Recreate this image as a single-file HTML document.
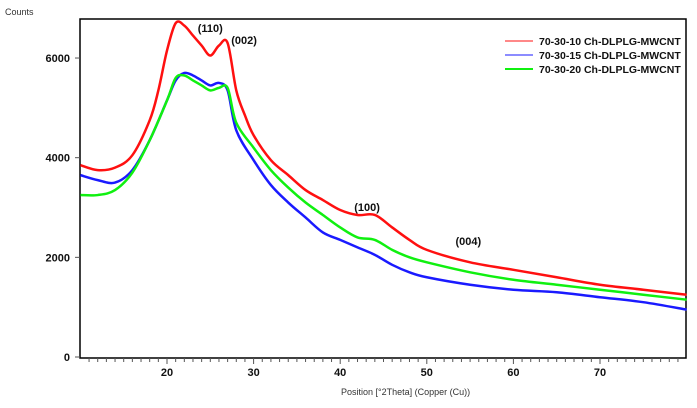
<!DOCTYPE html>
<html><head><meta charset="utf-8"><style>
body{margin:0;background:#fff;width:697px;height:408px;overflow:hidden}
svg{display:block}
text{font-family:"Liberation Sans",sans-serif}
</style></head><body>
<svg id="chart" width="697" height="408">
<g id="grid"></g>
</svg>
<script>
const twoTheta=[10,12,14,16,18,19,20,21,22,23,24,25,26,27,28,29,30,32,34,36,38,40,42,44,46,48,50,55,60,65,70,75,80];
const red=[3850,3750,3800,4050,4750,5350,6150,6700,6650,6450,6250,6050,6250,6300,5350,4850,4450,3950,3650,3350,3150,2950,2850,2850,2600,2350,2150,1900,1750,1600,1450,1350,1250];
const twoThetaB=[10,12,14,16,18,20,21,22,23,24,25,26,27,28,30,32,34,36,38,40,42,44,46,48,50,55,60,65,70,75,80];
const blue=[3650,3550,3500,3750,4350,5150,5550,5700,5650,5550,5450,5500,5350,4550,3950,3450,3100,2800,2500,2350,2200,2050,1850,1700,1600,1450,1350,1300,1200,1100,950];
const green=[3250,3250,3350,3700,4350,5150,5600,5650,5550,5450,5350,5400,5400,4700,4200,3750,3400,3100,2850,2600,2400,2350,2150,2000,1900,1700,1550,1450,1350,1250,1150];
const yTicks=[0,2000,4000,6000];
const xTicks=[20,30,40,50,60,70];
const seriesNames=["70-30-10 Ch-DLPLG-MWCNT","70-30-15 Ch-DLPLG-MWCNT","70-30-20 Ch-DLPLG-MWCNT"];
const peakLabels=["(110)","(002)","(100)","(004)"];
const peakPos=[[25.0,6520],[28.9,6280],[43.1,2930],[54.8,2250]];

const NS="http://www.w3.org/2000/svg";
const svg=document.getElementById('chart');
const L=80,R=686,T=19,B=358;
const xs=t=>167+(t-20)*8.66;
const ys=v=>357-v*0.04983;
function mk(tag,attrs,parent){const e=document.createElementNS(NS,tag);for(const k in attrs)e.setAttribute(k,attrs[k]);(parent||svg).appendChild(e);return e;}

let t=mk('text',{x:5,y:15,'font-size':9,fill:'#333'});t.textContent='Counts';



let fr=mk('rect',{x:L,y:T,width:R-L,height:B-T,fill:'none',stroke:'#000','stroke-width':1.5});



yTicks.forEach(v=>{
 mk('line',{x1:L-5,x2:L,y1:ys(v),y2:ys(v),stroke:'#555'});
 const e=mk('text',{x:L-10,y:ys(v)+4,'font-size':11,'font-weight':'bold','text-anchor':'end',fill:'#111'});
 e.textContent=v;
 
 
});
for(let v=11;v<80;v++){
 const major=v%10===0;
 mk('line',{x1:xs(v),x2:xs(v),y1:B,y2:B+(major?6:4),stroke:'#555'});
}
xTicks.forEach(v=>{
 const e=mk('text',{x:xs(v),y:B+18,'font-size':11,'font-weight':'bold','text-anchor':'middle',fill:'#111'});
 e.textContent=v;
 
 
});
t=mk('text',{x:341,y:395,'font-size':9,fill:'#333'});t.textContent='Position [°2Theta] (Copper (Cu))';



function path(xsArr,vals){
 const p=xsArr.map((x,i)=>[xs(x),ys(vals[i])]);
 let d='M'+p[0][0]+','+p[0][1];
 for(let i=0;i<p.length-1;i++){
  const p0=p[i-1]||p[i],p1=p[i],p2=p[i+1],p3=p[i+2]||p2;
  const c1=[p1[0]+(p2[0]-p0[0])/6,p1[1]+(p2[1]-p0[1])/6];
  const c2=[p2[0]-(p3[0]-p1[0])/6,p2[1]-(p3[1]-p1[1])/6];
  d+=' C'+c1+' '+c2+' '+p2;
 }
 return d;
}
const cols=['#ff1010','#1a1aff','#10f010'];
const data=[[twoTheta,red],[twoThetaB,blue],[twoThetaB,green]];
[1,2,0].forEach(i=>{
 const e=mk('path',{d:path(data[i][0],data[i][1]),fill:'none',stroke:cols[i],'stroke-width':2.5,'stroke-linejoin':'round'});
 
 
});
peakLabels.forEach((s,i)=>{
 const e=mk('text',{x:xs(peakPos[i][0]),y:ys(peakPos[i][1]),'font-size':11,'font-weight':'bold','text-anchor':'middle',fill:'#111'});
 e.textContent=s;
 
 
});
seriesNames.forEach((s,i)=>{
 const y=41+i*14;
 const g=mk('g',{});
 
 
 mk('line',{x1:505,x2:533,y1:y,y2:y,stroke:cols[i],'stroke-width':i==2?2:1},g);
 const e=mk('text',{x:539,y:y+4,'font-size':10.5,'font-weight':'bold',fill:'#111'},g);
 e.textContent=s;
});
</script>
</body></html>
